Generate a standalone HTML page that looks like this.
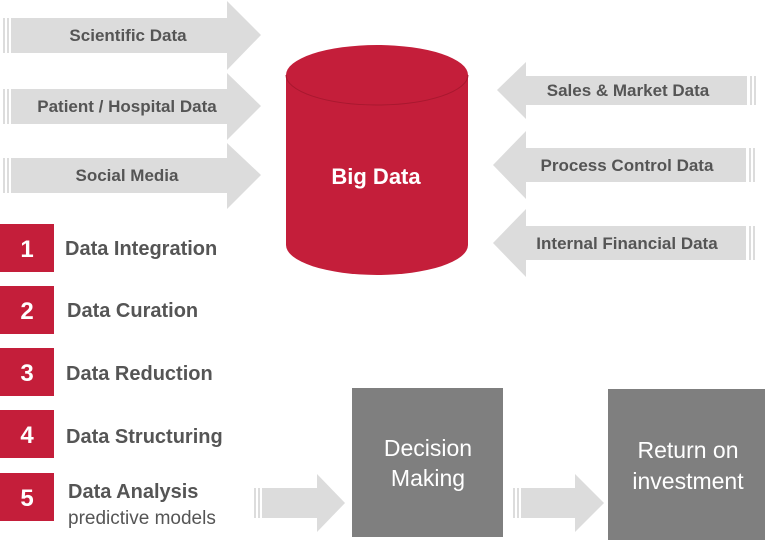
<!DOCTYPE html>
<html><head><meta charset="utf-8"><style>
html,body{margin:0;padding:0;background:#fff;}
svg{display:block;font-family:"Liberation Sans",Arial,sans-serif;}
</style></head><body>
<svg width="768" height="544" viewBox="0 0 768 544" xmlns="http://www.w3.org/2000/svg">
<g fill="#dcdcdc">
  <!-- left arrows -->
  <rect x="3" y="18" width="2" height="35"/><rect x="7" y="18" width="2" height="35"/>
  <polygon points="11,18 227,18 227,1 261,35 227,70 227,53 11,53"/>
  <rect x="3" y="89" width="2" height="35"/><rect x="7" y="89" width="2" height="35"/>
  <polygon points="11,89 227,89 227,73 261,106 227,140 227,124 11,124"/>
  <rect x="3" y="158" width="2" height="35"/><rect x="7" y="158" width="2" height="35"/>
  <polygon points="11,158 227,158 227,143 261,175 227,209 227,193 11,193"/>
  <!-- right arrows -->
  <polygon points="747,76 526,76 526,62 497,90 526,119 526,105 747,105"/>
  <rect x="750" y="76" width="2" height="29"/><rect x="754" y="76" width="2" height="29"/>
  <polygon points="746,148 526,148 526,131 493,165 526,199 526,182 746,182"/>
  <rect x="749" y="148" width="2" height="34"/><rect x="753" y="148" width="2" height="34"/>
  <polygon points="746,226 526,226 526,209 493,243 526,277 526,260 746,260"/>
  <rect x="749" y="226" width="2" height="34"/><rect x="753" y="226" width="2" height="34"/>
  <!-- bottom arrows -->
  <rect x="254" y="488" width="2" height="30"/><rect x="258" y="488" width="2" height="30"/>
  <polygon points="262,488 317,488 317,474 345,503 317,532 317,518 262,518"/>
  <rect x="513" y="488" width="2" height="30"/><rect x="517" y="488" width="2" height="30"/>
  <polygon points="521,488 575,488 575,474 604,503 575,532 575,518 521,518"/>
</g>
<g font-weight="bold" font-size="17" fill="#555" text-anchor="middle">
  <text x="128" y="41">Scientific Data</text>
  <text x="127" y="112">Patient / Hospital Data</text>
  <text x="127" y="181">Social Media</text>
  <text x="628" y="96">Sales &amp; Market Data</text>
  <text x="627" y="171">Process Control Data</text>
  <text x="627" y="249">Internal Financial Data</text>
</g>
<!-- cylinder -->
<path d="M286,75 L286,245 A91,30 0 0 0 468,245 L468,75 Z" fill="#c41e3a"/>
<ellipse cx="377" cy="75" rx="91" ry="30" fill="#c41e3a"/>
<path d="M286,75 A91,30 0 0 0 468,75" fill="none" stroke="#a8182f" stroke-width="1"/>
<text x="376" y="184" font-size="22" font-weight="bold" fill="#fff" text-anchor="middle">Big Data</text>
<!-- numbered -->
<g fill="#c41e3a">
  <rect x="0" y="224" width="54" height="48"/>
  <rect x="0" y="286" width="54" height="48"/>
  <rect x="0" y="348" width="54" height="48"/>
  <rect x="0" y="410" width="54" height="48"/>
  <rect x="0" y="473" width="54" height="48"/>
</g>
<g fill="#fff" font-size="24" font-weight="bold" text-anchor="middle">
  <text x="27" y="257">1</text><text x="27" y="319">2</text><text x="27" y="381">3</text><text x="27" y="443">4</text><text x="27" y="506">5</text>
</g>
<g fill="#555" font-size="20" font-weight="bold">
  <text x="65" y="255">Data Integration</text>
  <text x="67" y="317">Data Curation</text>
  <text x="66" y="380">Data Reduction</text>
  <text x="66" y="443">Data Structuring</text>
  <text x="68" y="498">Data Analysis</text>
</g>
<text x="68" y="524" fill="#555" font-size="19">predictive models</text>
<!-- boxes -->
<rect x="352" y="388" width="151" height="149" fill="#7f7f7f"/>
<rect x="608" y="389" width="157" height="151" fill="#7f7f7f"/>
<g fill="#fff" font-size="23" text-anchor="middle">
  <text x="428" y="456">Decision</text><text x="428" y="486">Making</text>
  <text x="688" y="458">Return on</text><text x="688" y="489">investment</text>
</g>
</svg>
</body></html>
